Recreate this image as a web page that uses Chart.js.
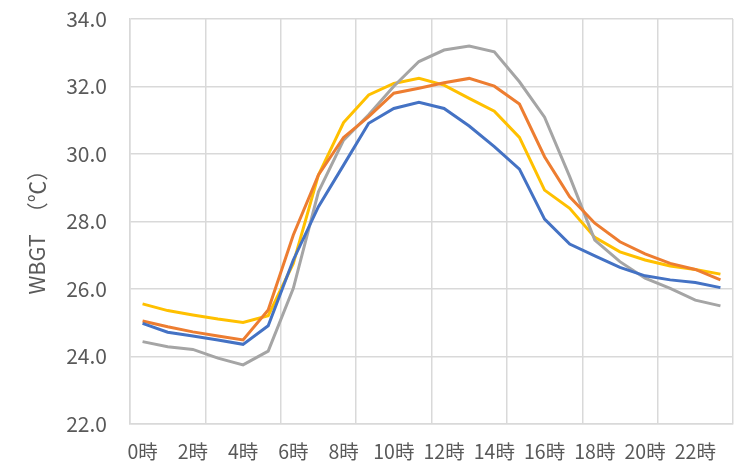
<!DOCTYPE html>
<html>
<head>
<meta charset="utf-8">
<script src="https://cdn.jsdelivr.net/npm/chart.js@4/dist/chart.umd.min.js"></script>
<style>
html,body{margin:0;padding:0;background:#fff;}
#wrap{width:743px;height:469px;position:relative;}
</style>
</head>
<body>
<div id="wrap"><canvas id="c" width="743" height="469"></canvas></div>
<script>
const categories = ["0時","1時","2時","3時","4時","5時","6時","7時","8時","9時","10時","11時","12時","13時","14時","15時","16時","17時","18時","19時","20時","21時","22時","23時"];
const seriesNames = ["系列1","系列2","系列3","系列4"];
const blueValues   = [24.98,24.72,24.61,24.49,24.36,24.91,26.86,28.44,29.67,30.91,31.35,31.53,31.35,30.83,30.22,29.55,28.07,27.33,26.98,26.64,26.39,26.27,26.19,26.04];
const orangeValues = [25.05,24.88,24.73,24.61,24.49,25.38,27.60,29.38,30.49,31.11,31.80,31.95,32.11,32.24,32.01,31.48,29.92,28.73,27.95,27.40,27.04,26.76,26.58,26.27];
const grayValues   = [24.44,24.29,24.21,23.95,23.75,24.16,26.02,28.88,30.41,31.16,32.01,32.74,33.08,33.20,33.03,32.14,31.09,29.33,27.45,26.81,26.32,26.02,25.67,25.50];
const yellowValues = [25.56,25.36,25.23,25.11,25.01,25.21,26.76,29.38,30.93,31.75,32.09,32.24,32.04,31.65,31.27,30.49,28.93,28.39,27.53,27.10,26.86,26.68,26.58,26.44];
const yTitle = "WBGT　（℃）　";
const yMin = 22, yMax = 34, yStep = 2;

const FONT = "'Noto Sans CJK JP', 'Noto Sans', sans-serif";
const GRID = '#d9d9d9';
const TXT = '#595959';

function ds(label, data, color){
  return {label, data, borderColor: color, backgroundColor: color, borderWidth: 3, pointRadius: 0, tension: 0, fill: false};
}

new Chart(document.getElementById('c'), {
  type: 'line',
  data: {
    labels: categories,
    datasets: [
      ds(seriesNames[0], blueValues, '#4472C4'),
      ds(seriesNames[1], orangeValues, '#ED7D31'),
      ds(seriesNames[2], grayValues, '#A5A5A5'),
      ds(seriesNames[3], yellowValues, '#FFC000')
    ]
  },
  options: {
    responsive: false,
    animation: false,
    layout: {padding: {top: 19, right: 10, bottom: 0, left: 0}},
    plugins: {legend: {display: false}, tooltip: {enabled: false}},
    scales: {
      x: {
        type: 'category',
        offset: true,
        grid: {
          offset: true,
          drawTicks: false,
          lineWidth: 1.5,
          color: (ctx) => (ctx.index === undefined || ctx.index % 3 === 0) ? GRID : 'rgba(0,0,0,0)'
        },
        border: {color: GRID, width: 1.5},
        ticks: {
          autoSkip: false,
          maxRotation: 0,
          minRotation: 0,
          padding: 16,
          color: TXT,
          font: {family: FONT, size: 19.5},
          callback: function(v, i){ return i % 2 === 0 ? this.getLabelForValue(v) : ''; }
        },
        afterFit: (s) => { s.height = 45; s.paddingLeft = 0; s.paddingRight = 0; }
      },
      y: {
        min: yMin, max: yMax,
        grid: {drawTicks: false, color: GRID, lineWidth: 1.5},
        border: {color: GRID, width: 1.5},
        ticks: {
          stepSize: yStep,
          padding: 23,
          color: TXT,
          font: {family: FONT, size: 21},
          callback: (v) => Number(v).toFixed(1)
        },
        title: {
          display: true,
          text: yTitle,
          color: TXT,
          font: {family: FONT, size: 21.5},
          padding: {top: 24, bottom: 0}
        },
        afterFit: (s) => { s.width = 130; s.paddingTop = 0; s.paddingBottom = 0; }
      }
    }
  }
});
</script>
</body>
</html>
